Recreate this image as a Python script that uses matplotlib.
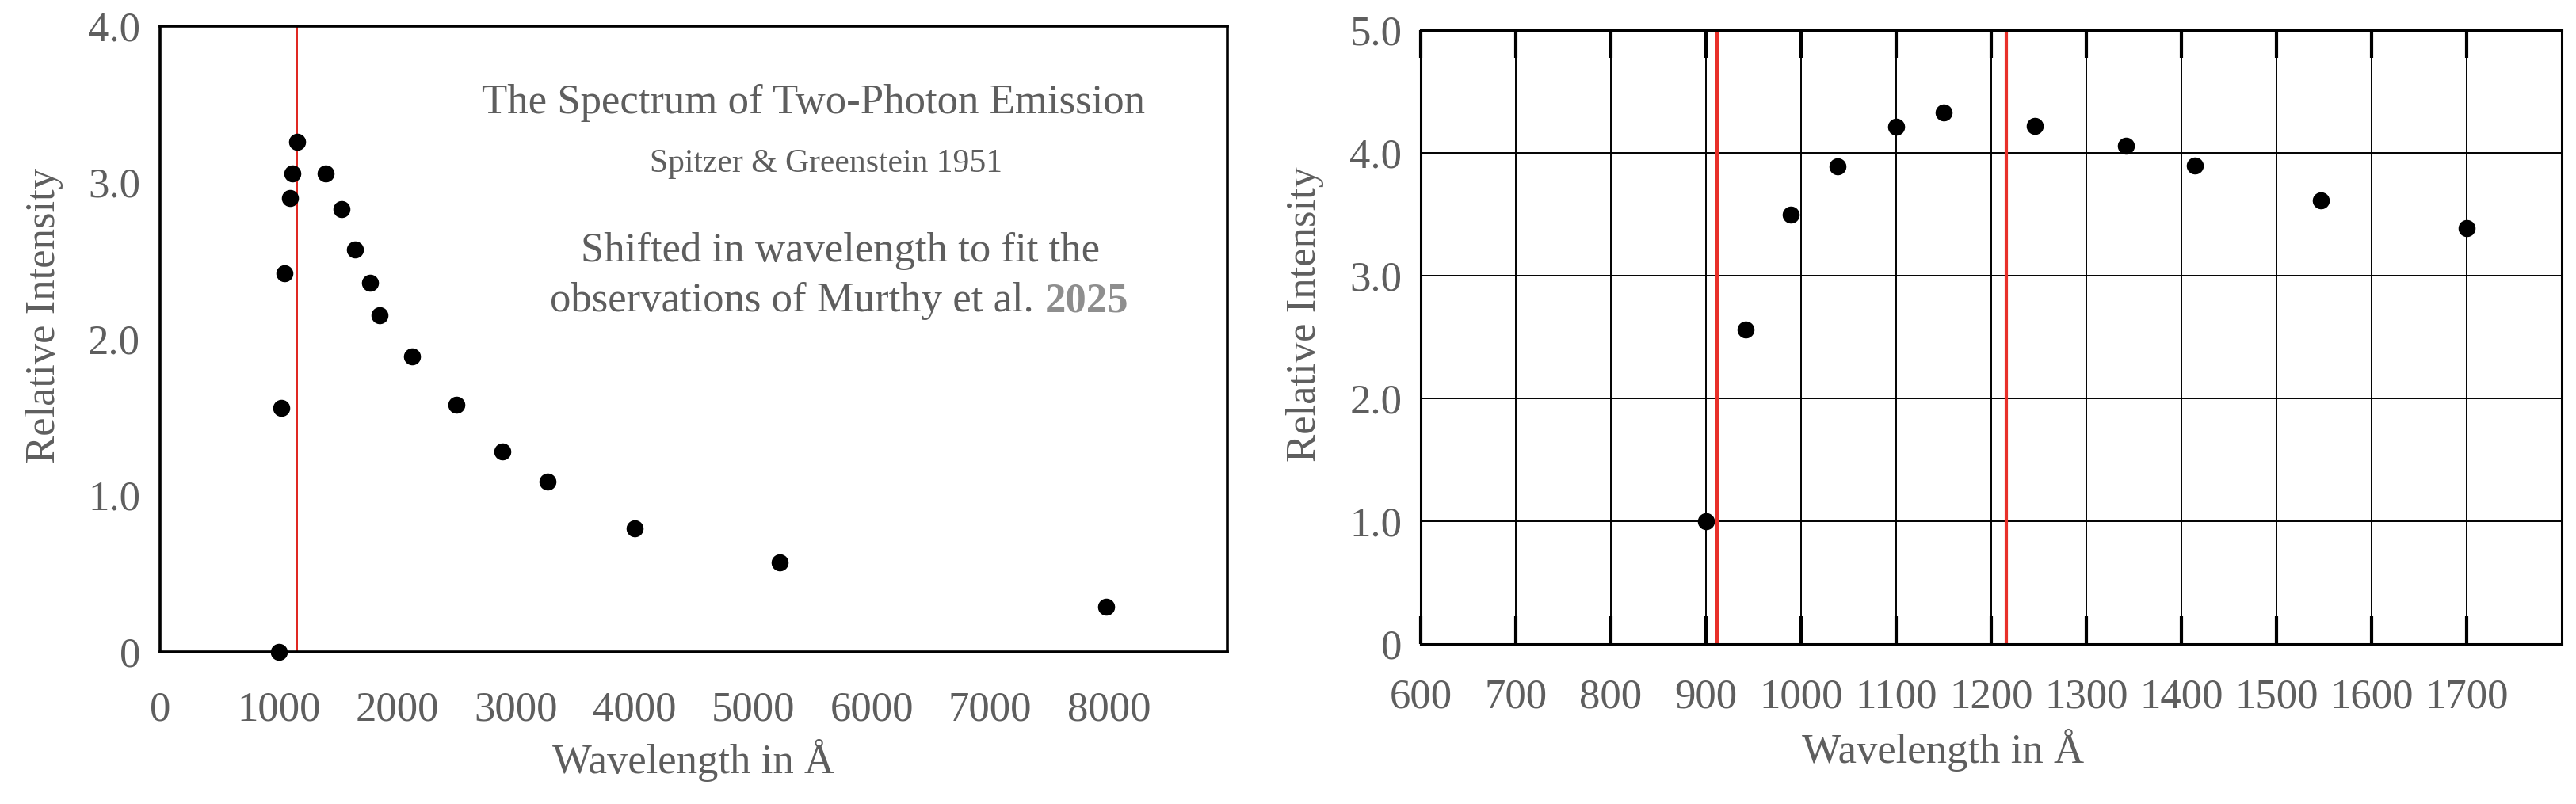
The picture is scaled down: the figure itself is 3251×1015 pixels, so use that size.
import matplotlib
matplotlib.use("Agg")
import matplotlib.pyplot as plt

# data
left_wl = [1000, 1020, 1050, 1096, 1118, 1156, 1396, 1532, 1643, 1772, 1854, 2127, 2502, 2884, 3265, 4002, 5222, 7975]
left_int = [0.0, 1.56, 2.42, 2.90, 3.06, 3.26, 3.06, 2.83, 2.57, 2.36, 2.15, 1.89, 1.58, 1.28, 1.09, 0.79, 0.57, 0.29]
left_line = 1156

right_wl = [900, 942, 989, 1038, 1100, 1150, 1246, 1342, 1414, 1547, 1700]
right_int = [1.0, 2.56, 3.50, 3.89, 4.21, 4.33, 4.22, 4.06, 3.90, 3.61, 3.39]
right_lines = [912, 1216]

left_xticks = [0, 1000, 2000, 3000, 4000, 5000, 6000, 7000, 8000]
left_yticks = [0, 1, 2, 3, 4]
left_ylabels = ["0", "1.0", "2.0", "3.0", "4.0"]
right_xticks = [600, 700, 800, 900, 1000, 1100, 1200, 1300, 1400, 1500, 1600, 1700]
right_yticks = [0, 1, 2, 3, 4, 5]
right_ylabels = ["0", "1.0", "2.0", "3.0", "4.0", "5.0"]

W, H = 3251, 1015
grey = "#5e5e5e"
plt.rcParams["font.family"] = ["Liberation Serif", "DejaVu Serif"]

fig = plt.figure(figsize=(W / 100, H / 100), dpi=100)


def px_axes(l, t, r, b):
    return fig.add_axes([l / W, 1 - b / H, (r - l) / W, (b - t) / H])


# ---- left panel
ax1 = px_axes(202, 33, 1549, 823)
ax1.scatter(left_wl, left_int, s=210, color="black", zorder=3, clip_on=False)
ax1.axvline(left_line, color="#e0221c", lw=1.4, zorder=2)
ax1.set_xlim(0, 9000)
ax1.set_ylim(0, 4)
ax1.set_xticks(left_xticks)
ax1.set_xticklabels([str(v) for v in left_xticks])
ax1.set_yticks(left_yticks)
ax1.set_yticklabels(left_ylabels)
ax1.tick_params(axis="x", length=0, pad=36, labelsize=38, labelcolor=grey)
ax1.tick_params(axis="y", length=0, pad=18, labelsize=38, labelcolor=grey)
for sp in ax1.spines.values():
    sp.set_linewidth(2.6)
ax1.set_xlabel("Wavelength in Å", fontsize=38, color=grey, va="center")
ax1.xaxis.set_label_coords(0.5, -0.173)
ax1.set_ylabel("Relative Intensity", fontsize=38, color=grey, va="center")
ax1.yaxis.set_label_coords(-0.1084, 0.537)


def ftext(x, y, s, **kw):
    return fig.text(x / W, 1 - y / H, s, color=grey, va="baseline", **kw)


ftext(1026, 143, "The Spectrum of Two-Photon Emission", ha="center", fontsize=38)
ftext(1042, 217, "Spitzer & Greenstein 1951", ha="center", fontsize=30)
ftext(1061, 330, "Shifted in wavelength to fit the", ha="center", fontsize=38)
t4 = ftext(694, 393, "observations of Murthy et al.", ha="left", fontsize=38)
ax1.annotate("2025", xy=(1, 0), xycoords=t4, xytext=(10, 0),
             textcoords="offset points", ha="left", va="bottom",
             fontsize=38, fontweight="bold", color="#8e8e8e")

# ---- right panel
ax2 = px_axes(1793, 38, 3233, 813)
ax2.scatter(right_wl, right_int, s=210, color="black", zorder=3, clip_on=False)
for xv in right_lines:
    ax2.axvline(xv, color="#e8302a", lw=3.0, zorder=2)
ax2.set_xlim(600, 1800)
ax2.set_ylim(0, 5)
ax2.set_xticks(right_xticks)
ax2.set_xticklabels([str(v) for v in right_xticks])
ax2.set_yticks(right_yticks)
ax2.set_yticklabels(right_ylabels)
ax2.grid(True, color="black", lw=1.4)
ax2.set_axisbelow(True)
ax2.tick_params(axis="x", direction="in", length=25, width=3, top=True,
                pad=31, labelsize=38, labelcolor=grey)
ax2.tick_params(axis="y", length=0, pad=17, labelsize=38, labelcolor=grey)
for sp in ax2.spines.values():
    sp.set_linewidth(2.2)
ax2.set_xlabel("Wavelength in Å", fontsize=38, color=grey, va="center")
ax2.xaxis.set_label_coords(0.458, -0.173)
ax2.set_ylabel("Relative Intensity", fontsize=38, color=grey, va="center")
ax2.yaxis.set_label_coords(-0.1014, 0.537)

fig.savefig("out.png", dpi=100)
